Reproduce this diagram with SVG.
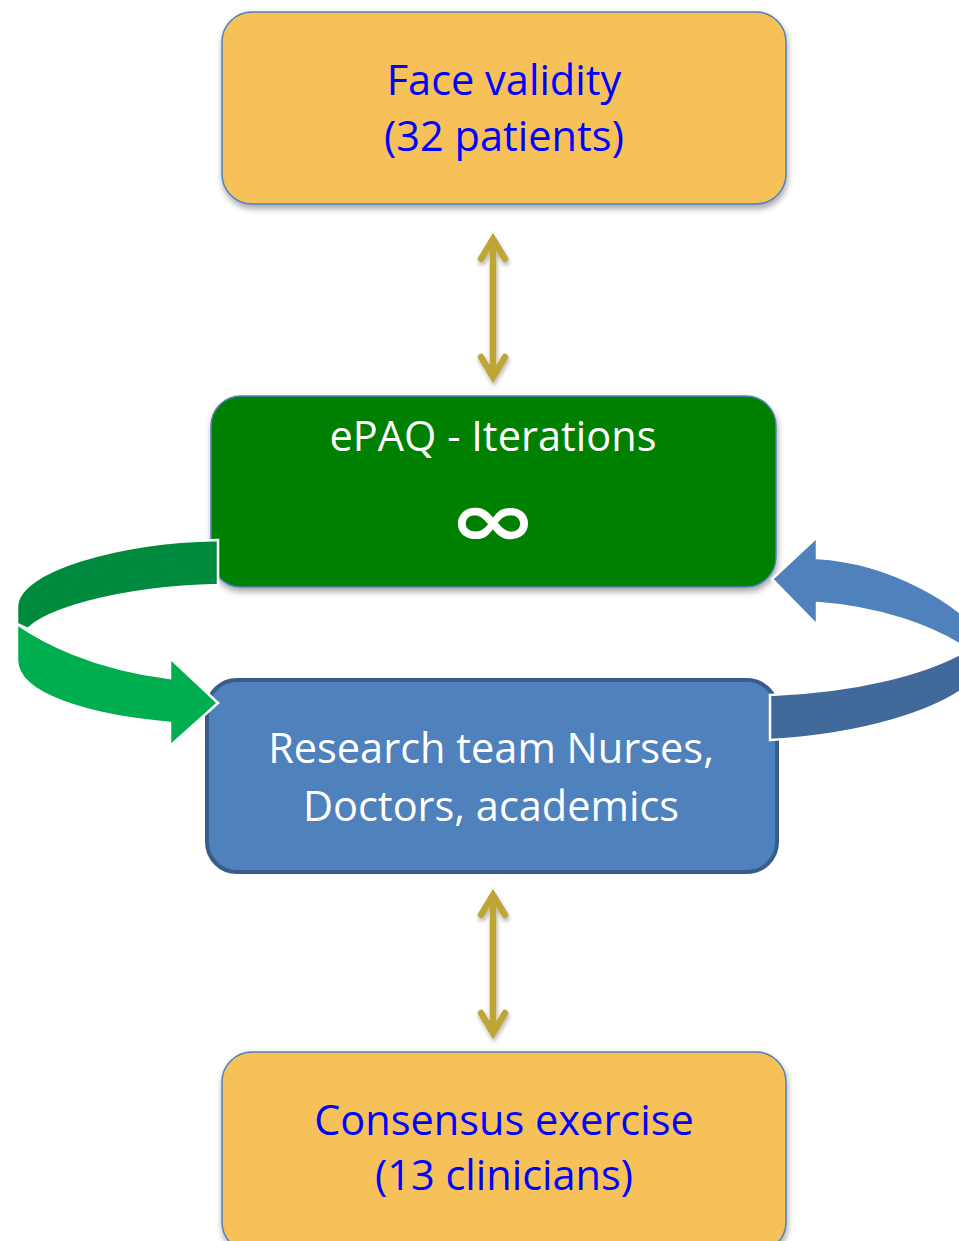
<svg xmlns="http://www.w3.org/2000/svg" width="959" height="1241" viewBox="0 0 959 1241">
<style>
.t{font-family:"Open Sans","Liberation Sans",sans-serif;font-size:41.5px;text-anchor:middle}
.bl{fill:#0000FF}
.wh{fill:#FFFFFF}
.orange{fill:#F7C15A;stroke:#4F81BD;stroke-width:1.5}
.dbl{fill:none;stroke:#BFA535;stroke-width:6.5;stroke-linecap:round;stroke-linejoin:miter}
.rib{stroke:#FFFFFF;stroke-width:2.5;stroke-linejoin:miter}
</style>
<defs>
<filter id="sh" x="-10%" y="-10%" width="120%" height="130%">
<feDropShadow dx="1" dy="4" stdDeviation="3" flood-color="#000" flood-opacity="0.35"/>
</filter>
<filter id="sh2" x="-50%" y="-10%" width="200%" height="130%">
<feDropShadow dx="1" dy="3" stdDeviation="2" flood-color="#000" flood-opacity="0.3"/>
</filter>
</defs>
<rect width="959" height="1241" fill="#FFFFFF"/>

<g id="face-validity">
<rect class="orange" x="222" y="12" width="564" height="192" rx="30" filter="url(#sh)"/>
<text class="t bl" x="504" y="95">Face validity</text>
<text class="t bl" x="504" y="151">(32 patients)</text>
</g>

<g id="epaq">
<rect x="211" y="396" width="565" height="191" rx="30" fill="#008000" stroke="#4F81BD" stroke-width="1.5" filter="url(#sh)"/>
<text class="t wh" x="493" y="451">ePAQ - Iterations</text>
<text transform="translate(493 522) scale(1.74 1.22)" x="0" y="20" font-family="DejaVu Sans" font-weight="bold" font-size="62" text-anchor="middle" fill="#FFFFFF">∞</text>
</g>

<g id="research-team">
<rect x="207" y="680" width="570" height="192" rx="30" fill="#4F81BD" stroke="#385D8A" stroke-width="4"/>
<text class="t wh" x="491" y="763">Research team Nurses,</text>
<text class="t wh" x="491" y="821">Doctors, academics</text>
</g>

<g id="consensus">
<rect class="orange" x="222" y="1052" width="564" height="200" rx="30" filter="url(#sh)"/>
<text class="t bl" x="504" y="1135">Consensus exercise</text>
<text class="t bl" x="504" y="1190">(13 clinicians)</text>
</g>

<g id="connectors">
<g filter="url(#sh2)">
<path class="dbl" d="M493 241 L493 374 M481 259 L493 239 L505 259 M481 357 L493 377 L505 357"/>
<path class="dbl" d="M493 897 L493 1031 M481 915 L493 895 L505 915 M481 1013 L493 1033 L505 1013"/>
</g>
<path class="rib" fill="#008A3E" d="M218 540 C120 542 17 570 17 607 L17 624 L28 629 C45 612 110 588 218 585 Z"/>
<path class="rib" fill="#00AE4F" d="M17 624 C40 640 90 668 170 678 L170 658 L218 703 L170 746 L170 723 C90 716 17 695 17 660 Z"/>
<path class="rib" fill="#4F81BD" d="M817 537 L772 579 L817 625 L817 603 C875 607 935 625 975 655 L985 640 C965 605 890 562 817 558 Z"/>
<path class="rib" fill="#41699A" d="M770 695 C850 692 930 675 975 645 L975 680 C940 712 860 735 770 740 Z"/>
</g>
</svg>
